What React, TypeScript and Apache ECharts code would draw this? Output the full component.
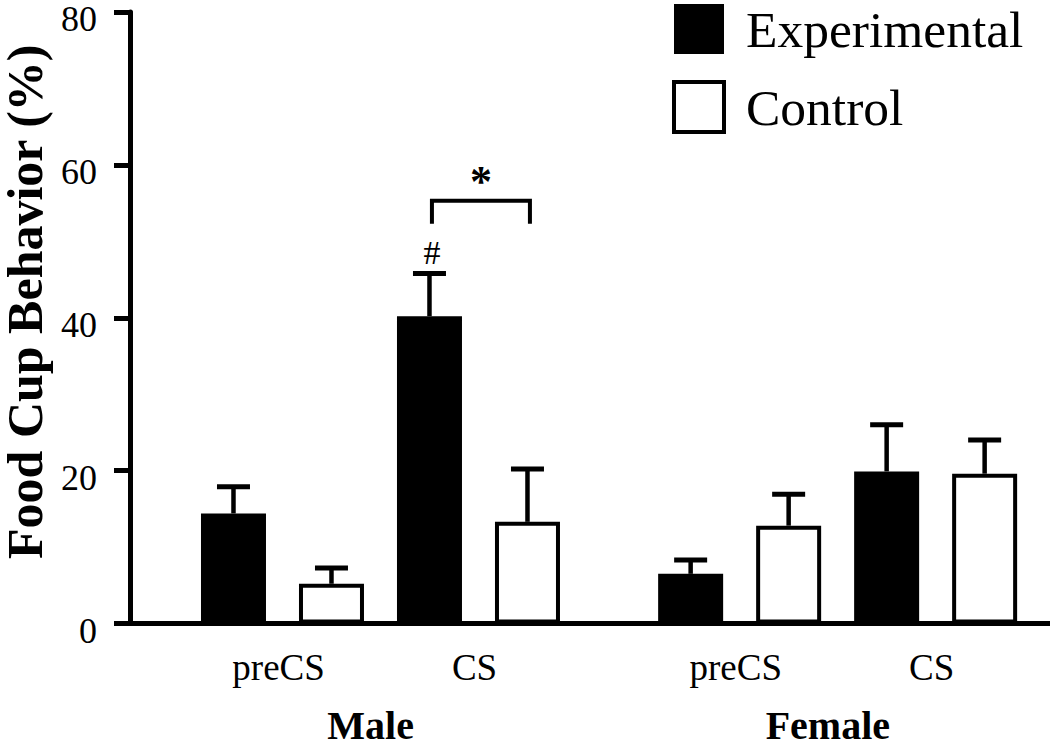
import React, { useEffect, useRef } from "react";
import * as echarts from "echarts";

// ---- data ----
const GROUPS = ["Male", "Female"];
const PHASES = ["preCS", "CS"];
const SERIES_NAMES = ["Experimental", "Control"];
// order: Male preCS, Male CS, Female preCS, Female CS
const EXP_MEAN = [14.4, 40.2, 6.5, 19.9];
const EXP_SEM = [3.5, 5.6, 1.8, 6.1];
const CTRL_MEAN = [5.2, 13.3, 12.8, 19.6];
const CTRL_SEM = [2.05, 6.9, 4.1, 4.4];
const Y_MIN = 0;
const Y_MAX = 80;
const Y_STEP = 20;
// significance annotations (values on the y scale)
const BRACKET_TOP = 55.3;
const BRACKET_DROP = 52.3;
const STAR_Y = 57.8;
const HASH_Y = 48.5;

// ---- layout constants ----
const GROUP_OFFSET = 4.665; // in bar slots
const X_MIN = -1.056;
const X_MAX = 8.332;
const FONT = "Liberation Serif";

function slot(g: number, p: number, s: number) {
  return g * GROUP_OFFSET + p * 2 + s;
}

export default function App() {
  const ref = useRef<HTMLDivElement>(null);
  useEffect(() => {
    const chart = echarts.init(ref.current!, null, { renderer: "svg" });

    const means = [EXP_MEAN, CTRL_MEAN];
    const sems = [EXP_SEM, CTRL_SEM];
    const barData = (s: number) => {
      const out: number[][] = [];
      GROUPS.forEach((_, g) =>
        PHASES.forEach((_, p) => {
          const i = g * PHASES.length + p;
          out.push([slot(g, p, s), means[s][i]]);
        })
      );
      return out;
    };
    const errData: number[][] = [];
    [0, 1].forEach((s) =>
      GROUPS.forEach((_, g) =>
        PHASES.forEach((_, p) => {
          const i = g * PHASES.length + p;
          errData.push([slot(g, p, s), means[s][i], means[s][i] + sems[s][i]]);
        })
      )
    );

    const phaseVals: number[] = [];
    const phaseLabels: string[] = [];
    GROUPS.forEach((_, g) =>
      PHASES.forEach((ph, p) => {
        phaseVals.push(slot(g, p, 0.5) - 0.04);
        phaseLabels.push(ph);
      })
    );
    const groupVals = GROUPS.map((_, g) => slot(g, 0.75, 0) - 0.1);

    const lookup = (vals: number[], labels: string[]) => (v: number) => {
      let best = 0;
      vals.forEach((x, i) => {
        if (Math.abs(x - v) < Math.abs(vals[best] - v)) best = i;
      });
      return labels[best];
    };

    const option: any = {
      animation: false,
      textStyle: { fontFamily: FONT, color: "#000" },
      grid: { left: 130, right: 0, top: 12, bottom: 124.5, containLabel: false, outerBoundsMode: "none" },
      legend: {
        orient: "vertical",
        left: 672,
        top: 3,
        padding: 0,
        itemWidth: 50,
        itemHeight: 50,
        itemGap: 25,
        icon: "rect",
        textStyle: { fontFamily: FONT, fontSize: 51.5, lineHeight: 50, color: "#000", padding: [0, 0, 0, 17] },
        data: [
          { name: SERIES_NAMES[0], itemStyle: { color: "#000", borderWidth: 0 } },
          { name: SERIES_NAMES[1], itemStyle: { color: "#fff", borderColor: "#000", borderWidth: 4 } },
        ],
      },
      xAxis: [
        {
          type: "value",
          position: "bottom",
          min: X_MIN,
          max: X_MAX,
          axisLine: { show: true, onZero: false, lineStyle: { color: "#000", width: 5 } },
          axisTick: { show: false },
          splitLine: { show: false },
          axisLabel: {
            customValues: phaseVals,
            formatter: lookup(phaseVals, phaseLabels),
            fontFamily: FONT,
            fontSize: 37,
            color: "#000",
            margin: 25,
          },
        },
        {
          type: "value",
          position: "bottom",
          min: X_MIN,
          max: X_MAX,
          axisLine: { show: false, onZero: false },
          axisTick: { show: false },
          splitLine: { show: false },
          axisLabel: {
            customValues: groupVals,
            formatter: lookup(groupVals, GROUPS),
            fontFamily: FONT,
            fontSize: 40,
            fontWeight: "bold",
            color: "#000",
            lineHeight: 30,
            margin: 87,
          },
        },
      ],
      yAxis: {
        type: "value",
        min: Y_MIN,
        max: Y_MAX,
        interval: Y_STEP,
        name: "Food Cup Behavior (%)",
        nameLocation: "middle",
        nameRotate: 90,
        nameGap: 77,
        nameTextStyle: {
          fontFamily: FONT,
          fontSize: 50,
          lineHeight: 40,
          fontWeight: "bold",
          color: "#000",
          padding: [0, 0, 0, 32],
        },
        axisLine: { show: true, onZero: false, lineStyle: { color: "#000", width: 5 } },
        axisTick: { show: true, length: 16, lineStyle: { color: "#000", width: 5 } },
        splitLine: { show: false },
        axisLabel: {
          fontFamily: FONT,
          fontSize: 36,
          color: "#000",
          margin: 33,
          verticalAlign: "top",
          lineHeight: 14,
        },
      },
      series: [
        {
          name: SERIES_NAMES[0],
          type: "bar",
          xAxisIndex: 0,
          barWidth: 65,
          barGap: "-100%",
          itemStyle: { color: "#000", borderColor: "#000", borderWidth: 4 },
          data: barData(0),
          z: 2,
        },
        {
          name: SERIES_NAMES[1],
          type: "bar",
          xAxisIndex: 0,
          barWidth: 65,
          barGap: "-100%",
          itemStyle: { color: "#fff", borderColor: "#000", borderWidth: 4 },
          data: barData(1),
          z: 2,
        },
        {
          name: "SEM",
          type: "custom",
          xAxisIndex: 0,
          z: 3,
          data: errData,
          renderItem: (params: any, api: any) => {
            const x = api.value(0);
            const base = api.coord([x, api.value(1)]);
            const top = api.coord([x, api.value(2)]);
            const half = 16.5;
            return {
              type: "group",
              children: [
                {
                  type: "line",
                  shape: { x1: base[0], y1: base[1], x2: top[0], y2: top[1] },
                  style: { stroke: "#000", lineWidth: 4.5 },
                },
                {
                  type: "line",
                  shape: { x1: top[0] - half, y1: top[1], x2: top[0] + half, y2: top[1] },
                  style: { stroke: "#000", lineWidth: 5 },
                },
              ],
            };
          },
        },
        {
          name: "Significance",
          type: "custom",
          xAxisIndex: 0,
          z: 3,
          data: [[slot(0, 1, 0) + 0.025, slot(0, 1, 1) + 0.025, BRACKET_TOP, BRACKET_DROP, STAR_Y, HASH_Y]],
          renderItem: (params: any, api: any) => {
            const x1 = api.value(0);
            const x2 = api.value(1);
            const pTop1 = api.coord([x1, api.value(2)]);
            const pTop2 = api.coord([x2, api.value(2)]);
            const pDrop1 = api.coord([x1, api.value(3)]);
            const pDrop2 = api.coord([x2, api.value(3)]);
            const star = api.coord([(x1 + x2) / 2, api.value(4)]);
            const hash = api.coord([x1, api.value(5)]);
            return {
              type: "group",
              children: [
                {
                  type: "polyline",
                  shape: { points: [pDrop1, pTop1, pTop2, pDrop2] },
                  style: { stroke: "#000", lineWidth: 4, fill: "none" },
                },
                {
                  type: "text",
                  style: {
                    text: "*",
                    x: star[0],
                    y: star[1],
                    align: "center",
                    verticalAlign: "middle",
                    fontFamily: FONT,
                    fontSize: 44,
                    fontWeight: "bold",
                    fill: "#000",
                  },
                },
                {
                  type: "text",
                  style: {
                    text: "#",
                    x: hash[0],
                    y: hash[1],
                    align: "center",
                    verticalAlign: "middle",
                    fontFamily: FONT,
                    fontSize: 34,
                    fill: "#000",
                  },
                },
              ],
            };
          },
        },
      ],
    };

    chart.setOption(option);
    return () => chart.dispose();
  }, []);

  return (
    <div
      ref={ref}
      style={{ position: "fixed", left: 0, top: 0, width: 1050, height: 748, background: "#fff" }}
    />
  );
}
